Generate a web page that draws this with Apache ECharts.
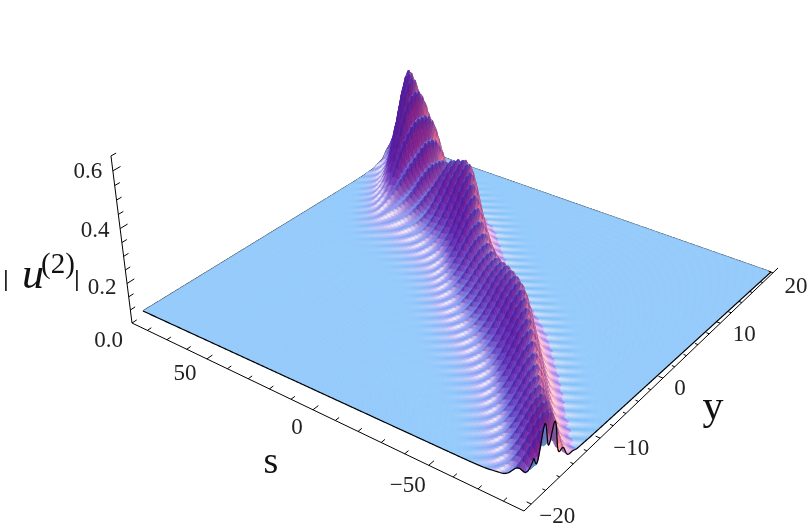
<!DOCTYPE html>
<html><head><meta charset="utf-8"><style>html,body{margin:0;background:#fff}#c{width:812px;height:532px}</style>
<script src="https://cdn.jsdelivr.net/npm/echarts@6/dist/echarts.min.js"></script></head>
<body><div id="c"></div><script>
// ---- values ----
const sTicks=[80,70,60,50,40,30,20,10,0,-10,-20,-30,-40,-50,-60,-70,-80];
const sLabels=[50,0,-50];
const yTicks=[-20,-18,-16,-14,-12,-10,-8,-6,-4,-2,0,2,4,6,8,10,12,14,16,18,20];
const yLabels=[-20,-10,0,10,20];
const zTicks=[0.05,0.1,0.15,0.2,0.25,0.3,0.35,0.4,0.45,0.5,0.55,0.6,0.65];
const zLabels=[0,0.2,0.4,0.6];
// ridge crest height along s, and position of its centre in y
const ridgeS=[-80,-75,-65,-55,-45,-36,-25,-15,-5,5,15,25,32,40,50,60,70,75,80];
const ridgeZ=[0.15,0.165,0.172,0.197,0.225,0.235,0.215,0.185,0.195,0.25,0.29,0.25,0.215,0.31,0.41,0.385,0.278,0.209,0.174];
const ridgeY=[-19,-18,-15,-11.6,-8.5,-5.8,-3.2,-1,1.3,3.8,6.5,8.2,9.2,10.3,11.2,14,18,19.5,21];
// cross-section of the ridge (relative height against distance in y)
const crossD=[-14,-11,-8,-6,-5,-4,-3,-2,-1,0,1,2,3,4,5,6,8,11,14];
const crossZ=[0,0,0.005,0.03,0.08,0.18,0.36,0.62,0.88,1,0.75,0.33,0.11,0.03,0.01,0.003,0,0,0];
// strength of the crests along s
const rippleS=[-80,-72,-62,-50,80];
const rippleA=[0.32,0.3,0.14,0.12,0.12];
const floorRipple=0.005, ripplePeriod=7.5, rippleSlant=4.8;
const floorColor='rgb(147,202,251)';

// ---- camera calibration ----
const W={B:1,L:1.166,R:1.207}, VP=[406,2500], KAPPA=-0.1385;
const BOX={S:88,Y:21,z0:0.05,B:[524,511],L:[132,323],R:[778,268]};
const FLOOR={S:75,Y:20,z0:0,B:[532,490],L:[143,311],R:[771,272]};
function proj(c,s,y,z){
  const u=(s+c.S)/(2*c.S), v=(y+c.Y)/(2*c.Y), d=(z-c.z0)*KAPPA;
  const w=W.B+u*(W.L-W.B)+v*(W.R-W.B)+d;
  const X=W.B*c.B[0]+u*(W.L*c.L[0]-W.B*c.B[0])+v*(W.R*c.R[0]-W.B*c.B[0])+d*VP[0];
  const Y=W.B*c.B[1]+u*(W.L*c.L[1]-W.B*c.B[1])+v*(W.R*c.R[1]-W.B*c.B[1])+d*VP[1];
  return [X/w,Y/w];
}
// ---- surface lookup ----
function smooth(xs,ys,x){
  let i=0; if(x<=xs[0])return ys[0]; if(x>=xs[xs.length-1])return ys[ys.length-1];
  while(x>xs[i+1])i++;
  const p0=ys[Math.max(i-1,0)],p1=ys[i],p2=ys[i+1],p3=ys[Math.min(i+2,ys.length-1)];
  const x0=xs[Math.max(i-1,0)],x1=xs[i],x2=xs[i+1],x3=xs[Math.min(i+2,xs.length-1)];
  const t=(x-x1)/(x2-x1),h=x2-x1,m1=(p2-p0)/(x2-x0)*h,m2=(p3-p1)/(x3-x1)*h;
  return (2*t*t*t-3*t*t+1)*p1+(t*t*t-2*t*t+t)*m1+(-2*t*t*t+3*t*t)*p2+(t*t*t-t*t)*m2;
}
function phase(s,y){return 2*Math.PI*(s+rippleSlant*y)/ripplePeriod;}
function crest(s,y){
  const d=y-smooth(ridgeS,ridgeY,s), E=smooth(ridgeS,ridgeZ,s), G=Math.max(0,smooth(crossD,crossZ,d));
  return E*G*(1+smooth(rippleS,rippleA,s)*Math.cos(phase(s,y)));
}
function height(s,y){
  const d=y-smooth(ridgeS,ridgeY,s);
  const side=floorRipple*Math.exp(-Math.abs(d)/(d<0?7:4))*Math.max(0,1-Math.abs(d)/(d<0?14:10));
  return crest(s,y)+side*Math.cos(phase(s,y))*Math.min(1,Math.abs(d)/1.5);
}
// ---- lighting ----
const e=55*Math.PI/180, a=Math.SQRT1_2;
const vr=[-a,a,0], vh=[-a,-a,0];
const vu=[-vh[0]*Math.sin(e),-vh[1]*Math.sin(e),Math.cos(e)], vv=[vh[0]*Math.cos(e),vh[1]*Math.cos(e),Math.sin(e)];
const dot=(p,q)=>p[0]*q[0]+p[1]*q[1]+p[2]*q[2];
function shade(dzds,dzdy,s,y){
  let n=[-dzds*150*0.3,-dzdy*40*0.3,1]; const l=Math.hypot(n[0],n[1],n[2]); n=n.map(t=>t/l);
  const nr=dot(n,vr),nu=dot(n,vu),nv=dot(n,vv);
  const r=Math.max(0,(nr+nv)/Math.SQRT2), b=Math.max(0,(nu+nv)/Math.SQRT2);
  let g=Math.max(0,(-0.1*nr+nu+nv)/Math.SQRT2*0.8-0.5*Math.max(0,-nr));
  let R=r<0.58?0.4+0.31*r:0.58+(r-0.58)*1.6, G=0.125+0.85*g+0.45*Math.max(0,nr), B=0.455+0.54*b-0.25*Math.max(0,nr);
  if(nr>0.1){G=Math.min(G,R*0.72);B=Math.max(B,G);}
  const d=y-smooth(ridgeS,ridgeY,s), prof=Math.max(0,smooth(crossD,crossZ,d));
  // lavender on the lower slope
  if(d<0){const lv=Math.min(1,Math.max(0,(0.3-prof)/0.25))*Math.min(1,prof/0.03)*0.45;R+=(0.82-R)*lv;G+=(0.62-G)*lv;B+=(0.95-B)*lv;}
  // dark crest lines
  const line=Math.pow(0.5+0.5*Math.cos(phase(s,y)+0.5),9)*Math.min(1,prof/0.3)*0.72;
  R+=(0.26-R)*line;G+=(0.1-G)*line;B+=(0.6-B)*line;
  // blue-and-white stripes fading out over the floor beside the ridge
  const C=Math.cos(phase(s,y)+1.2);
  const near=d<0?Math.exp(-Math.pow((d+5)/1.1,2)):0.55*Math.exp(-Math.pow((d-4.2)/1.2,2));
  const far=d<0?0.3*Math.exp(-Math.pow((d+7)/1.9,2)):0.26*Math.exp(-Math.pow((d-6)/1.6,2));
  const w=Math.min(1,(near*0.85+far)*Math.pow(0.5+0.5*C,4));
  if(w>0){R+=(0.97-R)*w;G+=(0.95-G)*w;B+=(1-B)*w;}
  const bl=Math.min(1,(near*0.6+far*1.1)*Math.pow(0.5-0.5*C,4));
  if(bl>0){R+=(0.38-R)*bl;G+=(0.62-G)*bl;B+=(0.94-B)*bl;}
  const to=t=>Math.round(255*Math.max(0,Math.min(1,t)));
  return 'rgb('+to(R)+','+to(G)+','+to(B)+')';
}
// ---- cells, far to near ----
const DS=0.6, DY=0.2, cells=[], colors=[floorColor];
for(let i=0;i<250;i++){
  const sB=75-i*DS, sA=sB-DS, sM=(sA+sB)/2, c=smooth(ridgeS,ridgeY,sM);
  const lo=Math.max(-100,Math.ceil((c-14+20)/DY)), hi=Math.min(200,Math.floor((c+10+20)/DY));
  const yLo=lo*DY-20, yHi=hi*DY-20;
  if(yHi<20) cells.push([sA,sB,Math.max(yHi,-20),20,0,0,0,0,0]);
  for(let j=hi-1;j>=lo;j--){
    if(j<0||j>=200)continue;
    const yA=j*DY-20,yB=yA+DY;
    const z00=height(sA,yA),z01=height(sA,yB),z10=height(sB,yA),z11=height(sB,yB);
    colors.push(shade(((z10-z00)+(z11-z01))/(2*DS),((z01-z00)+(z11-z10))/(2*DY),sM,yA+DY/2));
    cells.push([sA,sB,yA,yB,z00,z01,z10,z11,colors.length-1]);
  }
  if(yLo>-20) cells.push([sA,sB,-20,Math.min(yLo,20),0,0,0,0,0]);
}
function edge(fn,n){const o=[];for(let i=0;i<=n;i++){const p=fn(i/n);o.push(proj(FLOOR,p[0],p[1],p[2]));}return o;}
const backEdges=[edge(t=>{const y=-20+40*t;return[75,y,crest(75,y)];},400),edge(t=>{const s=75-150*t;return[s,20,crest(s,20)];},300)];
const frontEdges=[edge(t=>{const s=75-150*t;return[s,-20,crest(s,-20)];},300),edge(t=>{const y=-20+40*t;return[-75,y,crest(-75,y)];},500)];
function polyItem(api,pts,stroke,lw){return{type:'polyline',shape:{points:pts.map(p=>api.coord(p))},style:{stroke:stroke,lineWidth:lw,fill:null},silent:true};}
function lineSeries(z,list,lw){return{type:'custom',coordinateSystem:'cartesian2d',silent:true,animation:false,z:z,clip:false,
  data:list.map((_,i)=>[i]),renderItem:(p,api)=>polyItem(api,list[api.value(0)],'#000',lw)};}
// box axes
const axisLines=[[[88,-21,0.05],[88,-21,0.65]],[[88,-21,0.05],[-88,-21,0.05]],[[-88,-21,0.05],[-88,21,0.05]]].map(l=>l.map(p=>proj(BOX,p[0],p[1],p[2])));
const tickLines=[];
sTicks.forEach(v=>{const m=v%50===0;tickLines.push([proj(BOX,v,-21,0.05),proj(BOX,v,m?-20.3:-20.5,0.05)]);});
yTicks.forEach(v=>{const m=v%10===0;tickLines.push([proj(BOX,-88,v,0.05),proj(BOX,m?-86.2:-86.8,v,0.05)]);});
zTicks.forEach(v=>{const m=Math.abs(v/0.2-Math.round(v/0.2))<1e-6;tickLines.push([proj(BOX,88,-21,v),proj(BOX,88,m?-20.1:-20.4,v)]);});
const fmt=v=>(v<0?'\u2212':'')+Math.abs(v);
const textMarks=[];
const sOff=[[-22,15],[-16,18],[-21,21]], yOff=[[26,13],[31,11],[17,11],[24,12],[23,14]], zOff=[[-25,5],[-25,4],[-25,2],[-25,1]];
sLabels.forEach((v,i)=>{const p=proj(BOX,v,-21,0.05);textMarks.push([p[0]+sOff[i][0],p[1]+sOff[i][1],fmt(v)]);});
yLabels.forEach((v,i)=>{const p=proj(BOX,-88,v,0.05);textMarks.push([p[0]+yOff[i][0],p[1]+yOff[i][1],fmt(v)]);});
zLabels.forEach((v,i)=>{const p=proj(BOX,88,-21,v);textMarks.push([p[0]+zOff[i][0],p[1]+zOff[i][1],v.toFixed(1)]);});

const chart=echarts.init(document.getElementById('c'),null,{renderer:'canvas'});
chart.setOption({
  animation:false,backgroundColor:'#fff',
  grid:{left:0,right:0,top:0,bottom:0},
  xAxis:{type:'value',min:0,max:812,show:false},
  yAxis:{type:'value',min:0,max:532,inverse:true,show:false},
  series:[
    lineSeries(2,backEdges,1.2),
    {type:'custom',coordinateSystem:'cartesian2d',silent:true,animation:false,z:3,clip:false,progressive:0,
     data:cells,renderItem:(p,api)=>{
       const sA=api.value(0),sB=api.value(1),yA=api.value(2),yB=api.value(3);
       const pts=[proj(FLOOR,sA,yA,api.value(4)),proj(FLOOR,sA,yB,api.value(5)),proj(FLOOR,sB,yB,api.value(7)),proj(FLOOR,sB,yA,api.value(6))].map(q=>api.coord(q));
       const col=colors[api.value(8)];
       return{type:'polygon',shape:{points:pts},style:{fill:col,stroke:col,lineWidth:0.7},silent:true};
     }},
    lineSeries(4,frontEdges,1.2),
    lineSeries(5,axisLines,1),
    lineSeries(5,tickLines,1),
    {type:'custom',coordinateSystem:'cartesian2d',silent:true,animation:false,z:6,clip:false,
     data:textMarks,renderItem:(p,api)=>{const q=api.coord([api.value(0),api.value(1)]);
       return{type:'text',x:q[0],y:q[1],style:{text:String(textMarks[p.dataIndex][2]),fontFamily:'Liberation Serif',fontSize:23,fill:'#222',align:'center',verticalAlign:'middle'},silent:true};}}
  ],
  graphic:[
    {type:'text',x:271,y:463,style:{text:'s',fontFamily:'Liberation Serif',fontSize:38,fill:'#111',align:'center',verticalAlign:'middle'}},
    {type:'text',x:713,y:408,style:{text:'y',fontFamily:'Liberation Serif',fontSize:42,fill:'#111',align:'center',verticalAlign:'middle'}},
    {type:'text',x:6,y:280,style:{text:'|',fontFamily:'Liberation Serif',fontWeight:'bold',fontSize:24,fill:'#111',align:'center',verticalAlign:'middle'}},
    {type:'text',x:33,y:276,style:{text:'u',fontFamily:'Liberation Serif',fontStyle:'italic',fontSize:44,fill:'#111',align:'center',verticalAlign:'middle'}},
    {type:'text',x:58,y:265,style:{text:'(2)',fontFamily:'Liberation Serif',fontSize:29,fill:'#111',align:'center',verticalAlign:'middle'}},
    {type:'text',x:77,y:280,style:{text:'|',fontFamily:'Liberation Serif',fontWeight:'bold',fontSize:24,fill:'#111',align:'center',verticalAlign:'middle'}}
  ]
});
</script></body></html>
